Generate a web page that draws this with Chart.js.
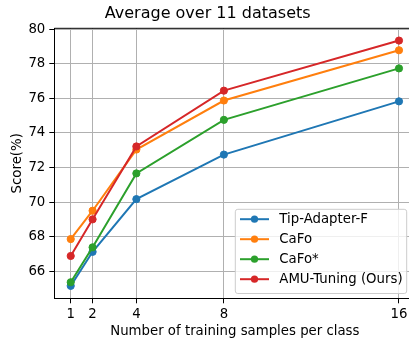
<!DOCTYPE html>
<html>
<head>
<meta charset="utf-8">
<script src="https://cdn.jsdelivr.net/npm/chart.js@4.4.0/dist/chart.umd.min.js"></script>
<style>
  html, body { margin: 0; padding: 0; background: #fff; overflow: hidden; }
  #wrap { position: relative; width: 421px; height: 343px; }
</style>
</head>
<body>
<div id="wrap"><canvas id="myChart"></canvas></div>
<script>
// Dados
const shots = [1, 2, 4, 8, 16];
const seriesNames = ['Tip-Adapter-F', 'CaFo', 'CaFo*', 'AMU-Tuning (Ours)'];
const tipAdapterF = [65.15, 67.12, 70.17, 72.75, 75.83];
const cafo = [67.86, 69.50, 73.04, 75.88, 78.79];
const cafoStar = [65.36, 67.38, 71.66, 74.76, 77.74];
const amuTuning = [66.88, 69.00, 73.22, 76.45, 79.35];
const yTicks = [66, 68, 70, 72, 74, 76, 78, 80];

const cores = ['#1f77b4', '#ff7f0e', '#2ca02c', '#d62728'];
const todasSeries = [tipAdapterF, cafo, cafoStar, amuTuning];
const fonte = 'DejaVu Sans';

function montarPontos(valores) {
  return shots.map((s, i) => ({ x: s, y: valores[i] }));
}

const datasets = todasSeries.map((valores, i) => ({
  label: seriesNames[i],
  data: montarPontos(valores),
  borderColor: cores[i],
  backgroundColor: cores[i],
  pointBackgroundColor: cores[i],
  pointBorderColor: cores[i],
  borderWidth: 2,
  pointRadius: 3.6,
  pointBorderWidth: 1,
  order: todasSeries.length - 1 - i,
  tension: 0
}));

// Moldura e legenda no estilo matplotlib
const molduraPlugin = {
  id: 'moldura',
  afterDatasetsDraw(chart) {
    const { ctx, chartArea } = chart;
    ctx.save();
    ctx.strokeStyle = '#000';
    ctx.lineWidth = 1;
    ctx.beginPath();
    ctx.moveTo(chartArea.left, chartArea.top);
    ctx.lineTo(chartArea.right, chartArea.top);
    ctx.stroke();
    ctx.restore();
  },
  afterDraw(chart) {
    const ctx = chart.ctx;
    const x0 = 235.3, y0 = 209.3, w = 171.4, h = 84.2;
    ctx.save();
    ctx.beginPath();
    ctx.roundRect(x0, y0, w, h, 2.5);
    ctx.fillStyle = 'rgba(255,255,255,0.8)';
    ctx.fill();
    ctx.strokeStyle = '#cccccc';
    ctx.lineWidth = 1;
    ctx.stroke();
    const linhas = [219.2, 239.2, 259.2, 279.2];
    chart.data.datasets.forEach((ds, i) => {
      const y = linhas[i];
      ctx.strokeStyle = ds.borderColor;
      ctx.lineWidth = 2;
      ctx.beginPath();
      ctx.moveTo(240, y);
      ctx.lineTo(269, y);
      ctx.stroke();
      ctx.beginPath();
      ctx.arc(254.5, y, 3.6, 0, Math.PI * 2);
      ctx.fillStyle = ds.borderColor;
      ctx.fill();
      ctx.fillStyle = '#000';
      ctx.font = '13.3px "' + fonte + '"';
      ctx.textBaseline = 'middle';
      ctx.textAlign = 'left';
      ctx.fillText(ds.label, 279.3, y + 0.5);
    });
    ctx.restore();
  }
};

function desenharGrafico() {
  const ctx = document.getElementById('myChart');
  new Chart(ctx, {
    type: 'line',
    data: { datasets: datasets },
    plugins: [molduraPlugin],
    options: {
      responsive: true,
      maintainAspectRatio: false,
      animation: false,
      layout: { padding: { left: 0, right: 5.6, top: 0, bottom: 0 } },
      plugins: {
        legend: { display: false },
        tooltip: { enabled: false },
        title: {
          display: true,
          text: 'Average over 11 datasets',
          color: '#000',
          font: { family: fonte, size: 16, weight: 'normal', lineHeight: 1.2 },
          padding: { top: 4.4, bottom: 4.7 }
        }
      },
      scales: {
        x: {
          type: 'linear',
          min: 0.25,
          max: 16.75,
          afterBuildTicks: (scale) => { scale.ticks = shots.map(v => ({ value: v })); },
          afterFit: (scale) => { scale.height = 44.7; },
          ticks: {
            color: '#000',
            font: { family: fonte, size: 13.3 },
            padding: 3,
            maxRotation: 0,
            autoSkip: false,
            callback: (v) => String(v)
          },
          grid: { color: '#b0b0b0', lineWidth: 1, tickColor: '#000', tickLength: 5, drawTicks: true },
          border: { display: true, color: '#000', width: 1 },
          title: {
            display: true,
            text: 'Number of training samples per class',
            color: '#000',
            font: { family: fonte, size: 13.3, lineHeight: 1.2 },
            padding: { top: 0, bottom: 3.5 }
          }
        },
        y: {
          type: 'linear',
          min: 64.43,
          max: 80.06,
          afterBuildTicks: (scale) => { scale.ticks = yTicks.map(v => ({ value: v })); },
          afterFit: (scale) => { scale.width = 54.3; },
          ticks: {
            color: '#000',
            font: { family: fonte, size: 13.3 },
            padding: 4,
            autoSkip: false,
            callback: (v) => String(v)
          },
          grid: { color: '#b0b0b0', lineWidth: 1, tickColor: '#000', tickLength: 5, drawTicks: true },
          border: { display: true, color: '#000', width: 1 },
          title: {
            display: true,
            text: 'Score(%)',
            color: '#000',
            font: { family: fonte, size: 13.3, lineHeight: 1.2 },
            padding: { top: 9.2, bottom: 0 }
          }
        }
      }
    }
  });
}

desenharGrafico();
</script>
</body>
</html>
